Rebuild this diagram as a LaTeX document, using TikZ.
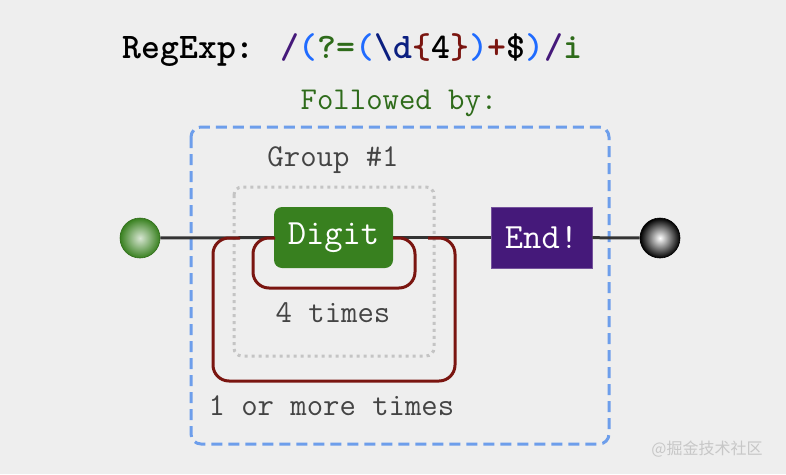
\documentclass[tikz,border=0pt]{standalone}
\usepackage{fontspec}
\newfontfamily\cjk{Noto Sans CJK SC}
\usepackage{tikz}
\usetikzlibrary{positioning,calc}
\definecolor{rxBack}{HTML}{EEEEEE}
\definecolor{rxLine}{HTML}{333333}
\definecolor{rxText}{HTML}{444444}
\definecolor{rxBlue}{HTML}{6D9EEB}
\definecolor{rxDot}{HTML}{C4C4C4}
\definecolor{rxRed}{HTML}{7A1510}
\definecolor{rxGreen}{HTML}{38801F}
\definecolor{rxLabel}{HTML}{2E6B1A}
\definecolor{rxPurple}{HTML}{45197A}
\definecolor{rxParen}{HTML}{1F6BFF}
\definecolor{rxNavy}{HTML}{0B1F80}
\newcommand{\rxfont}[1]{\fontsize{#1}{#1}\selectfont\ttfamily}

\begin{document}
\begin{tikzpicture}[
  x=1pt,y=-1pt,
  label/.style={text=rxText,font=\rxfont{31.8}},
  token/.style={text=white,font=\rxfont{35.5},minimum height=61pt,inner sep=0pt},
  loop/.style={draw=rxRed,line width=3pt,rounded corners=16pt},
  track/.style={draw=rxLine,line width=3pt}
]
\fill[rxBack] (0,0) rectangle (786,474);
\useasboundingbox (0,0) rectangle (786,474);

% ---- Title ----
\node[anchor=base west,font=\rxfont{36}\bfseries] (title) at (119,58)
  {RegExp: \textcolor{rxPurple}{/}\textcolor{rxParen}{(}\textcolor{rxLabel}{?=}\textcolor{rxParen}{(}\textcolor{rxNavy}{\textbackslash d}\textcolor{rxRed}{\{}4\textcolor{rxRed}{\}}\textcolor{rxParen}{)}\textcolor{rxRed}{+}\$\textcolor{rxParen}{)}\textcolor{rxPurple}{/}\textcolor{rxLabel}{i}};

% ---- Lookahead and group frames ----
\draw[rxBlue,line width=3pt,dash pattern=on 11pt off 6pt,rounded corners=10pt]
  (191,127) rectangle (609,444);
\node[label,text=rxLabel] (follow) at (399,103) {Followed by:};
\draw[rxDot,line width=3pt,dash pattern=on 3pt off 4pt,rounded corners=8pt]
  (234,187) rectangle (434,356);
\node[label] (group) at (333,160) {Group \#1};

% ---- Terminals and tokens ----
\node[circle,minimum size=40pt,inner sep=0pt,draw=rxGreen!85!black,line width=0.6pt,
      inner color=rxGreen!20!white,outer color=rxGreen] (start) at (140,238) {};
\node[circle,minimum size=40pt,inner sep=0pt,draw=black,line width=0.6pt,
      inner color=white,outer color=black] (finish) at (660,238) {};
\node[token,fill=rxGreen,minimum width=119pt,rounded corners=8pt] (digit) at (333.5,237.5) {Digit};
\node[token,fill=rxPurple,draw=rxPurple!75!white,line width=0.6pt,minimum width=101pt] (stop) at (541.5,237.5) {End!};

% ---- Track ----
\draw[track] (start) -- (digit);
\draw[track] (digit) -- (stop);
\draw[track] (stop) -- (finish);

% ---- Repeat loops ----
\draw[loop] (275,238) -- (253,238) -- (253,288) -- (415,288) -- (415,238) -- (393,238);
\node[label] (four) at (333,313) {4 times};
\draw[loop] (240,238) -- (213,238) -- (213,381) -- (455,381) -- (455,238) -- (428,238);
\node[label,anchor=west] (more) at (205,406) {1 or more times};

% ---- Watermark ----
\node[text=black!22,font=\cjk\fontsize{16}{16}\selectfont] (mark) at (707,449) {@掘金技术社区};
\end{tikzpicture}
\end{document}
